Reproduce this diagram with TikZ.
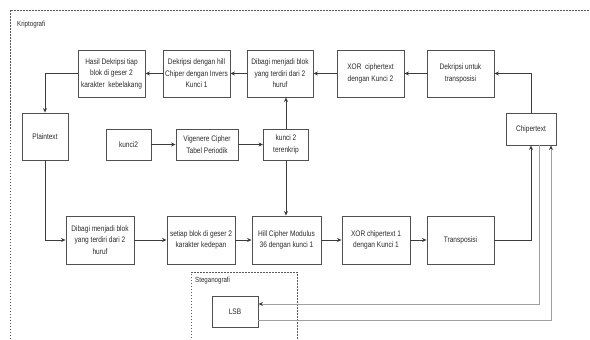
\documentclass[tikz,border=0pt]{standalone}
\usepackage{fontspec}
\setmainfont{Liberation Sans}[FakeStretch=0.82]
\usetikzlibrary{arrows.meta,calc}
\definecolor{ln}{HTML}{3C3C3C}
\definecolor{bx}{HTML}{505050}
\definecolor{tx}{HTML}{2A2A2A}
\tikzset{
  blk/.style={draw=bx, line width=0.9pt, align=center, inner sep=1pt, text=tx,
    font=\fontsize{8}{11.5}\selectfont},
  conn/.style={draw=ln, line width=0.9pt, -{Stealth[length=4.5pt,width=4pt]}},
  lconn/.style={draw=gray!75, line width=0.9pt, -{Stealth[length=4.5pt,width=4pt,fill=ln,color=ln]}},
  frame/.style={draw=gray!70!black, dash pattern=on 1.5pt off 1.5pt, line width=0.6pt},
  lbl/.style={anchor=west, text=tx, font=\fontsize{7.5}{9}\selectfont, inner sep=0pt}
}
\begin{document}
\begin{tikzpicture}[x=1pt,y=-1pt]
\useasboundingbox (0,0) rectangle (590,340);
\fill[white] (0,0) rectangle (590,340);
% frames
\draw[frame] (10,360) -- (10,10) -- (600,10);
\draw[frame] (191,350) -- (191,272) -- (297,272) -- (297,350);
\node[lbl] (kripto) at (17,25) {Kriptografi};
\node[lbl] (stego) at (195,281) {Steganografi};
% top row
\node[blk, minimum width=67pt, minimum height=47pt] (hasil) at (111.5,73.5) {Hasil Dekripsi tiap\\blok di geser 2\\karakter\ \ kebelakang};
\node[blk, minimum width=67pt, minimum height=47pt] (dekhill) at (196.5,73.5) {Dekripsi dengan hill\\Chiper dengan Invers\\Kunci 1};
\node[blk, minimum width=66pt, minimum height=47pt] (dibagiA) at (280,73.5) {Dibagi menjadi blok\\yang terdiri dari 2\\huruf};
\node[blk, minimum width=67pt, minimum height=47pt] (xorA) at (370.5,73.5) {XOR\ \ ciphertext\\dengan Kunci 2};
\node[blk, minimum width=67pt, minimum height=47pt] (dektrans) at (460.5,73.5) {Dekripsi untuk\\transposisi};
% middle
\node[blk, minimum width=46pt, minimum height=47pt] (plain) at (45,136.5) {Plaintext};
\node[blk, minimum width=50pt, minimum height=32pt] (chip) at (531,129) {Chipertext};
\node[blk, minimum width=45pt, minimum height=31pt] (kunci) at (128.5,144.5) {kunci2};
\node[blk, minimum width=62pt, minimum height=31pt] (vig) at (207,144.5) {Vigenere Cipher\\Tabel Periodik};
\node[blk, minimum width=45pt, minimum height=31pt] (kter) at (286,144.5) {kunci 2\\terenkrip};
% bottom row
\node[blk, minimum width=68pt, minimum height=48pt] (dibagiB) at (100,240) {Dibagi menjadi blok\\yang terdiri dari 2\\huruf};
\node[blk, minimum width=68pt, minimum height=48pt] (setiap) at (201,240) {setiap blok di geser 2\\karakter kedepan};
\node[blk, minimum width=69pt, minimum height=48pt] (hill) at (286.5,240) {Hill Cipher Modulus\\36 dengan kunci 1};
\node[blk, minimum width=68pt, minimum height=48pt] (xorB) at (376,240) {XOR chipertext 1\\dengan Kunci 1};
\node[blk, minimum width=67pt, minimum height=48pt] (trans) at (460.5,240) {Transposisi};
\node[blk, minimum width=46pt, minimum height=31pt] (lsb) at (235,311.5) {LSB};
% connectors
\draw[conn] (chip.north) |- (dektrans.east);
\draw[conn] (dektrans) -- (xorA);
\draw[conn] (xorA) -- (dibagiA);
\draw[conn] (dibagiA) -- (dekhill);
\draw[conn] (dekhill) -- (hasil);
\draw[conn] (hasil.west) -| (plain.north);
\draw[conn] (plain.south) |- (dibagiB.west);
\draw[conn] (kunci) -- (vig);
\draw[conn] (vig) -- (kter);
\draw[conn] (kter.north) -- (kter.north |- dibagiA.south);
\draw[conn] (kter.south) -- (kter.south |- hill.north);
\draw[conn] (dibagiB) -- (setiap);
\draw[conn] (setiap) -- (hill);
\draw[conn] (hill) -- (xorB);
\draw[conn] (xorB) -- (trans);
\draw[conn] (trans.east) -| (chip.south);
\coordinate (c1) at ($(chip.south)+(8,0)$);
\coordinate (c2) at ($(chip.south)+(20,0)$);
\coordinate (lin) at ($(lsb.east)+(0,-7.5)$);
\coordinate (lout) at ($(lsb.east)+(0,8.5)$);
\draw[lconn] (c1) |- (lin);
\draw[lconn] (lout) -| (c2);
\end{tikzpicture}
\end{document}
